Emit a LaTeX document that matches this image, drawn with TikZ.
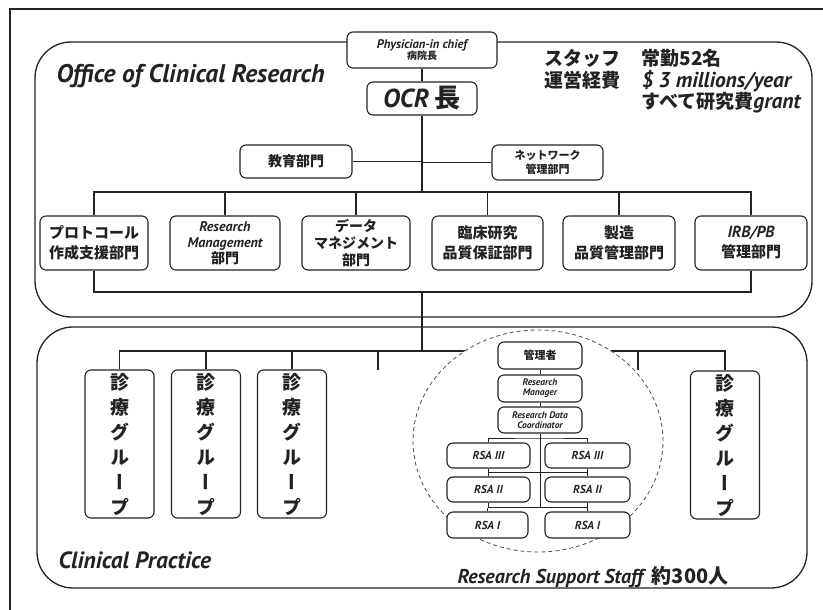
\documentclass[tikz,border=0pt]{standalone}
\usepackage{fontspec}
\usetikzlibrary{shapes.geometric}
\setmainfont{Noto Sans CJK JP}
\newfontfamily\latf{PT Sans}
\newfontfamily\vjp{Noto Sans CJK JP}[RawFeature=+vert]
\newcommand\LT[1]{{\latf\bfseries\itshape #1}}
\newcommand\fsz[2]{\fontsize{#1}{#2}\selectfont}
\definecolor{ink}{HTML}{222222}
\begin{document}
\begin{tikzpicture}[x=1pt,y=-1pt,
  obox/.style={draw=ink, line width=1.1pt, rounded corners=6pt, fill=white, inner sep=0pt, align=center, font=\bfseries, text=ink},
  ln/.style={draw=ink, line width=1.2pt},
  frame/.style={draw=ink, line width=1.3pt, rounded corners=36pt},
  vbox/.style={obox, minimum width=69pt, minimum height=148pt, font=\vjp\bfseries\fsz{19}{25}}]
\useasboundingbox (0,0) rectangle (823,610);
% outer frame
\draw[ink, line width=1.2pt] (10,610) -- (10,9) -- (823,9);
% region boxes
\draw[frame] (35,42) rectangle (812,317);
\draw[frame] (37,327) rectangle (807,588);
% top part nodes
\node[obox, minimum width=150pt, minimum height=36pt] (phys) at (422,50)
  {\LT{\fsz{12.5}{13}Physician-in chief}\\[-1pt]{\fsz{10}{11}病院長}};
\node[obox, minimum width=110pt, minimum height=33pt] (ocr) at (422,98.5)
  {\fsz{26}{27}\LT{OCR} 長};
\node[obox, minimum width=112pt, minimum height=33pt, font=\bfseries\fsz{14}{16}] (edu) at (296,161.5) {教育部門};
\node[obox, minimum width=111pt, minimum height=35pt, font=\bfseries\fsz{11}{14}] (net) at (547.5,162.5) {ネットワーク\\管理部門};
\node[obox, minimum width=108pt, minimum height=54pt, font=\bfseries\fsz{15}{20}] (d1) at (94,243) {プロトコール\\作成支援部門};
\node[obox, minimum width=110pt, minimum height=54pt, font=\bfseries\fsz{14}{16}] (d2) at (225,243) {\LT{Research}\\\LT{Management}\\部門};
\node[obox, minimum width=108pt, minimum height=54pt, font=\bfseries\fsz{14}{17}] (d3) at (356,243) {データ\\マネジメント\\部門};
\node[obox, minimum width=111pt, minimum height=54pt, font=\bfseries\fsz{15}{20}] (d4) at (487.5,243) {臨床研究\\品質保証部門};
\node[obox, minimum width=112pt, minimum height=54pt, font=\bfseries\fsz{15}{20}] (d5) at (619,243) {製造\\品質管理部門};
\node[obox, minimum width=112pt, minimum height=54pt, font=\bfseries\fsz{15}{20}] (d6) at (751,243) {\LT{\fsz{16}{20}IRB/PB}\\管理部門};
% top connectors
\coordinate (bus1) at (422,192);
\coordinate (bus2) at (422,292);
\coordinate (bus3) at (422,351);
\draw[ln] (phys) -- (ocr);
\draw[ln] (ocr.south) -- (bus1);
\draw[ln] (edu.east) -- (edu.east -| ocr.south);
\draw[ln] (net.west) -- (net.west -| ocr.south);
\draw[ln] (d1.north) |- (bus1) -| (d6.north);
\foreach \d in {d2,d3,d4,d5} \draw[ln] (\d.north) -- (\d.north |- bus1);
\draw[ln] (d1.south) |- (bus2) -| (d6.south);
\draw[ln] (bus2) -- (bus3);
% lower part nodes
\node[vbox] (c1) at (119.5,444) {診\\療\\グ\\ル\\ー\\プ};
\node[vbox] (c2) at (206,444) {診\\療\\グ\\ル\\ー\\プ};
\node[vbox] (c3) at (292,444) {診\\療\\グ\\ル\\ー\\プ};
\node[vbox] (c4) at (725,445) {診\\療\\グ\\ル\\ー\\プ};
\coordinate (t1) at (378,370);
\coordinate (t2) at (638,370);
\draw[ln] (c1.north) |- (bus3) -| (c4.north);
\foreach \c in {c2,c3} \draw[ln] (\c.north) -- (\c.north |- bus3);
\draw[ln] (t1) -- (t1 |- bus3);
\draw[ln] (t2) -- (t2 |- bus3);
% research support circle
\node[ellipse, draw=ink!80, dashed, dash pattern=on 4pt off 3pt, line width=0.8pt, fill=white, inner sep=0pt, minimum width=250pt, minimum height=222pt] (rss) at (538,441) {};
\node[obox, minimum width=84pt, minimum height=27pt, font=\bfseries\fsz{11}{12}] (mgr) at (540,355.5) {管理者};
\node[obox, minimum width=84pt, minimum height=27pt, font=\fsz{9.5}{10}] (rm) at (540,388.5) {\LT{Research}\\\LT{Manager}};
\node[obox, minimum width=84pt, minimum height=26pt, font=\fsz{9.5}{10}] (rdc) at (540,420) {\LT{Research Data}\\\LT{Coordinator}};
\node[obox, minimum width=83pt, minimum height=25pt, font=\fsz{11.5}{12}] (r3l) at (488.5,455.5) {\LT{RSA III}};
\node[obox, minimum width=85pt, minimum height=25pt, font=\fsz{11.5}{12}] (r3r) at (587.5,455.5) {\LT{RSA III}};
\node[obox, minimum width=83pt, minimum height=25pt, font=\fsz{11.5}{12}] (r2l) at (488.5,489.5) {\LT{RSA II}};
\node[obox, minimum width=85pt, minimum height=25pt, font=\fsz{11.5}{12}] (r2r) at (587.5,489.5) {\LT{RSA II}};
\node[obox, minimum width=81pt, minimum height=26pt, font=\fsz{11.5}{12}] (r1l) at (487.5,525) {\LT{RSA I}};
\node[obox, minimum width=85pt, minimum height=26pt, font=\fsz{11.5}{12}] (r1r) at (587.5,525) {\LT{RSA I}};
\coordinate (b1) at (540,438);
\coordinate (b2) at (540,472.5);
\coordinate (b3) at (540,507.5);
\draw[ln, line width=1pt] (mgr) -- (rm);
\draw[ln, line width=1pt] (rm) -- (rdc);
\draw[ln, line width=1pt] (rdc.south) -- (b3);
\draw[ln, line width=1pt] (r3l.north) |- (b1) -| (r3r.north);
\draw[ln, line width=1pt] (r3l.south) |- (b2) -| (r3r.south);
\draw[ln, line width=1pt] (r2l.north) -- (r2l.north |- b2);
\draw[ln, line width=1pt] (r2r.north) -- (r2r.north |- b2);
\draw[ln, line width=1.4pt] (r2l.south) |- (b3) -| (r2r.south);
\draw[ln, line width=1pt] (r1l.north) -- (r1l.north |- b3);
\draw[ln, line width=1pt] (r1r.north) -- (r1r.north |- b3);
% texts
\node[anchor=west, text=ink, font=\fsz{25.5}{26}] (ocrt) at (53,76) {\LT{Office of Clinical Research}};
\node[anchor=north west, align=left, text=ink, font=\bfseries\fsz{19}{21.5}] (staffa) at (541,46) {スタッフ\\運営経費};
\node[anchor=north west, align=left, text=ink, font=\bfseries\fsz{19}{21.5}] (staffb) at (638,46) {常勤52名\\\LT{\fsz{21.5}{21.5}\$ 3 millions/year}\\すべて研究費\LT{\fsz{21.5}{21.5}grant}};
\node[anchor=west, text=ink, font=\fsz{23.5}{24}] (cpt) at (55,560) {\LT{Clinical Practice}};
\node[anchor=west, text=ink, font=\bfseries\fsz{20}{22}] (rsst) at (454,577) {\LT{Research Support Staff}\hspace{9pt}約300人};
\end{tikzpicture}
\end{document}
